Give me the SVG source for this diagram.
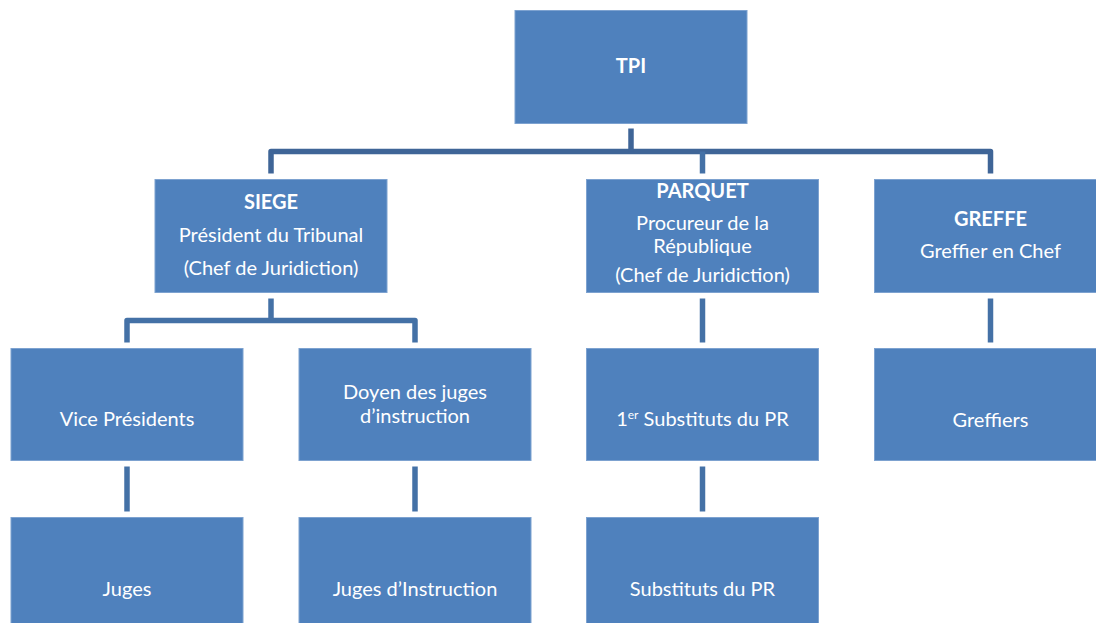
<svg xmlns="http://www.w3.org/2000/svg" width="1096" height="623" viewBox="0 0 1096 623">
<style>
.box{fill:#4f81bd;stroke:#7da2d0;stroke-width:1}
.t{font-family:Lato,"Open Sans","Liberation Sans",sans-serif;font-size:20px;fill:#ffffff;text-anchor:middle}
.b{font-weight:bold}
.c{fill:none;stroke:#4471a6;stroke-width:5.5;stroke-linejoin:round;stroke-linecap:butt}
.ct{stroke:#3f6597}
</style>
<rect width="1096" height="623" fill="#ffffff"/>
<g id="connectors">
<path class="c ct" d="M271,173.5 V151.5 H990.5 V173.5"/>
<path class="c ct" d="M631,128.5 V151.5"/>
<path class="c" d="M702.5,151.5 V173.5"/>
<path class="c" d="M127,342.5 V320.5 H415 V342.5"/>
<path class="c" d="M271,298.5 V320.5"/>
<path class="c" d="M702.5,298.5 V342.5"/>
<path class="c" d="M990.5,298.5 V342.5"/>
<path class="c" d="M127,466.5 V511.5"/>
<path class="c" d="M415,466.5 V511.5"/>
<path class="c" d="M702.5,466.5 V511.5"/>
</g>
<g id="tpi"><rect class="box" x="515" y="10.5" width="232" height="113"/><text class="t b" x="631" y="73">TPI</text></g>
<g id="siege"><rect class="box" x="155" y="179.5" width="232" height="113"/>
<text class="t b" x="271" y="209">SIEGE</text>
<text class="t" x="271" y="242">Président du Tribunal</text>
<text class="t" x="271" y="275">(Chef de Juridiction)</text></g>
<g id="parquet"><rect class="box" x="586.5" y="179.5" width="232" height="113"/>
<text class="t b" x="702.5" y="198">PARQUET</text>
<text class="t" x="702.5" y="230">Procureur de la</text>
<text class="t" x="702.5" y="253">République</text>
<text class="t" x="702.5" y="282">(Chef de Juridiction)</text></g>
<g id="greffe"><rect class="box" x="874.5" y="179.5" width="232" height="113"/>
<text class="t b" x="990.5" y="226">GREFFE</text>
<text class="t" x="990.5" y="258">Greffier en Chef</text></g>
<g id="vice-presidents"><rect class="box" x="11" y="348.5" width="232" height="112"/><text class="t" x="127" y="426">Vice Présidents</text></g>
<g id="doyen"><rect class="box" x="299" y="348.5" width="232" height="112"/>
<text class="t" x="415" y="399">Doyen des juges</text>
<text class="t" x="415" y="423">d’instruction</text></g>
<g id="premiers-substituts"><rect class="box" x="586.5" y="348.5" width="232" height="112"/><text class="t" x="702.5" y="426">1<tspan font-size="12" dy="-7">er</tspan><tspan dy="7"> Substituts du PR</tspan></text></g>
<g id="greffiers"><rect class="box" x="874.5" y="348.5" width="232" height="112"/><text class="t" x="990.5" y="427">Greffiers</text></g>
<g id="juges"><rect class="box" x="11" y="517.5" width="232" height="112"/><text class="t" x="127" y="596">Juges</text></g>
<g id="juges-instruction"><rect class="box" x="299" y="517.5" width="232" height="112"/><text class="t" x="415" y="596">Juges d’Instruction</text></g>
<g id="substituts"><rect class="box" x="586.5" y="517.5" width="232" height="112"/><text class="t" x="702.5" y="596">Substituts du PR</text></g>
</svg>
